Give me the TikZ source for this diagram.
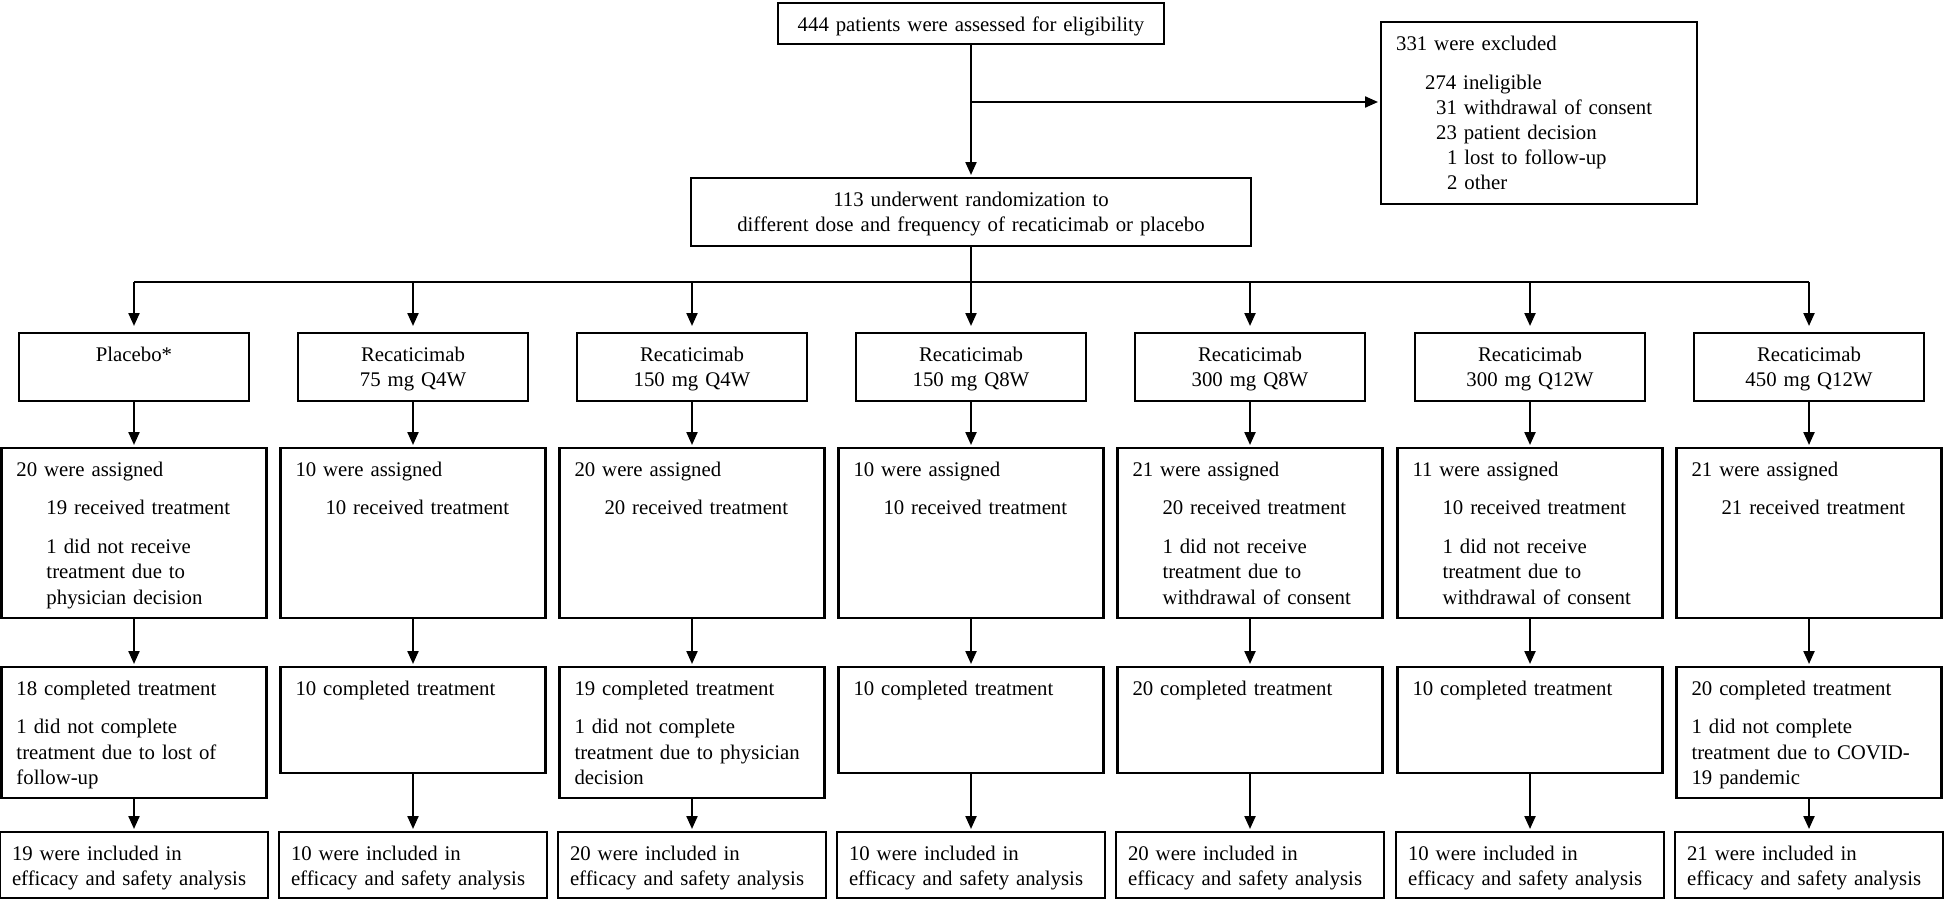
\documentclass[tikz,border=0pt]{standalone}
\usepackage{fontspec}
\setmainfont{Liberation Serif}
\usetikzlibrary{arrows.meta}

\tikzset{
  flowbox/.style={draw, inner xsep=7.5pt, inner ysep=0pt, text height=14pt,
    anchor=north, align=left, font=\fontsize{10.4pt}{12.8pt}\selectfont,
    execute at begin node={\hyphenpenalty=10000\relax}},
  headbox/.style={flowbox, align=center, text width=100pt, text depth=20pt},
  assignbox/.style={flowbox, text width=117.5pt, text depth=71pt},
  donebox/.style={flowbox, text width=117.5pt, text depth=#1},
  donebox/.default=39pt,
  inclbox/.style={flowbox, inner xsep=6pt, text width=122pt, text depth=19pt},
  arr/.style={-{Triangle[length=6.5pt,width=5.5pt]}, shorten >=1pt},
}

\begin{document}
\begin{tikzpicture}[x=0.5pt, y=-0.5pt, line width=1.1pt]
\useasboundingbox (0,0) rectangle (1947,899);

%screening and randomization
\node[flowbox, align=center, text width=178pt, text depth=6.5pt] (screen) at (971,2) {444 patients were assessed for eligibility};
\node[flowbox, align=center, text width=265pt, text depth=20pt] (rand) at (971,177) {113 underwent randomization to\\different dose and frequency of recaticimab or placebo};
\node[flowbox, anchor=north west, text width=143pt, text depth=77pt, font=\fontsize{10.4pt}{12.5pt}\selectfont] (excl) at (1380,21) {331 were excluded\\[7pt]
  \hspace*{14.5pt}274 ineligible\\
  \hspace*{20pt}31 withdrawal of consent\\
  \hspace*{20pt}23 patient decision\\
  \hspace*{25.5pt}1 lost to follow-up\\
  \hspace*{25.5pt}2 other};

%dose groups
\node[headbox] (h1) at (134,332) {Placebo*};
\node[headbox] (h2) at (413,332) {Recaticimab\\75 mg Q4W};
\node[headbox] (h3) at (692,332) {Recaticimab\\150 mg Q4W};
\node[headbox] (h4) at (971,332) {Recaticimab\\150 mg Q8W};
\node[headbox] (h5) at (1250,332) {Recaticimab\\300 mg Q8W};
\node[headbox] (h6) at (1530,332) {Recaticimab\\300 mg Q12W};
\node[headbox] (h7) at (1809,332) {Recaticimab\\450 mg Q12W};

%assigned
\node[assignbox] (a1) at (134,447) {20 were assigned\\[6.5pt]
  \hspace*{15pt}19 received treatment\\[6.5pt]
  \hspace*{15pt}1 did not receive\\
  \hspace*{15pt}treatment due to\\
  \hspace*{15pt}physician decision};
\node[assignbox] (a2) at (413,447) {10 were assigned\\[6.5pt]
  \hspace*{15pt}10 received treatment};
\node[assignbox] (a3) at (692,447) {20 were assigned\\[6.5pt]
  \hspace*{15pt}20 received treatment};
\node[assignbox] (a4) at (971,447) {10 were assigned\\[6.5pt]
  \hspace*{15pt}10 received treatment};
\node[assignbox] (a5) at (1250,447) {21 were assigned\\[6.5pt]
  \hspace*{15pt}20 received treatment\\[6.5pt]
  \hspace*{15pt}1 did not receive\\
  \hspace*{15pt}treatment due to\\
  \hspace*{15pt}withdrawal of consent};
\node[assignbox] (a6) at (1530,447) {11 were assigned\\[6.5pt]
  \hspace*{15pt}10 received treatment\\[6.5pt]
  \hspace*{15pt}1 did not receive\\
  \hspace*{15pt}treatment due to\\
  \hspace*{15pt}withdrawal of consent};
\node[assignbox] (a7) at (1809,447) {21 were assigned\\[6.5pt]
  \hspace*{15pt}21 received treatment};

%completed
\node[donebox=51.5pt] (c1) at (134,666) {18 completed treatment\\[6.5pt]
  1 did not complete\\treatment due to lost of\\follow-up};
\node[donebox] (c2) at (413,666) {10 completed treatment};
\node[donebox=51.5pt] (c3) at (692,666) {19 completed treatment\\[6.5pt]
  1 did not complete\\treatment due to physician\\decision};
\node[donebox] (c4) at (971,666) {10 completed treatment};
\node[donebox] (c5) at (1250,666) {20 completed treatment};
\node[donebox] (c6) at (1530,666) {10 completed treatment};
\node[donebox=51.5pt] (c7) at (1809,666) {20 completed treatment\\[6.5pt]
  1 did not complete\\treatment due to COVID-\\19 pandemic};

%analysed
\node[inclbox] (n1) at (134,831) {19 were included in\\efficacy and safety analysis};
\node[inclbox] (n2) at (413,831) {10 were included in\\efficacy and safety analysis};
\node[inclbox] (n3) at (692,831) {20 were included in\\efficacy and safety analysis};
\node[inclbox] (n4) at (971,831) {10 were included in\\efficacy and safety analysis};
\node[inclbox] (n5) at (1250,831) {20 were included in\\efficacy and safety analysis};
\node[inclbox] (n6) at (1530,831) {10 were included in\\efficacy and safety analysis};
\node[inclbox] (n7) at (1809,831) {21 were included in\\efficacy and safety analysis};

%connectors
\coordinate (split) at (971,102);
\coordinate (fork) at (971,282);
\draw[arr] (screen.south) -- (rand.north);
\draw[arr] (split) -- (split -| excl.west);
\draw (rand.south) -- (fork);
\draw (fork -| h1.north) -- (fork -| h7.north);
\foreach \i in {1,...,7} {
  \draw[arr, shorten >=3pt] (fork -| h\i.north) -- (h\i.north);
  \draw[arr] (h\i.south) -- (a\i.north);
  \draw[arr] (a\i.south) -- (c\i.north);
  \draw[arr] (c\i.south) -- (n\i.north);
}
\end{tikzpicture}
\end{document}
